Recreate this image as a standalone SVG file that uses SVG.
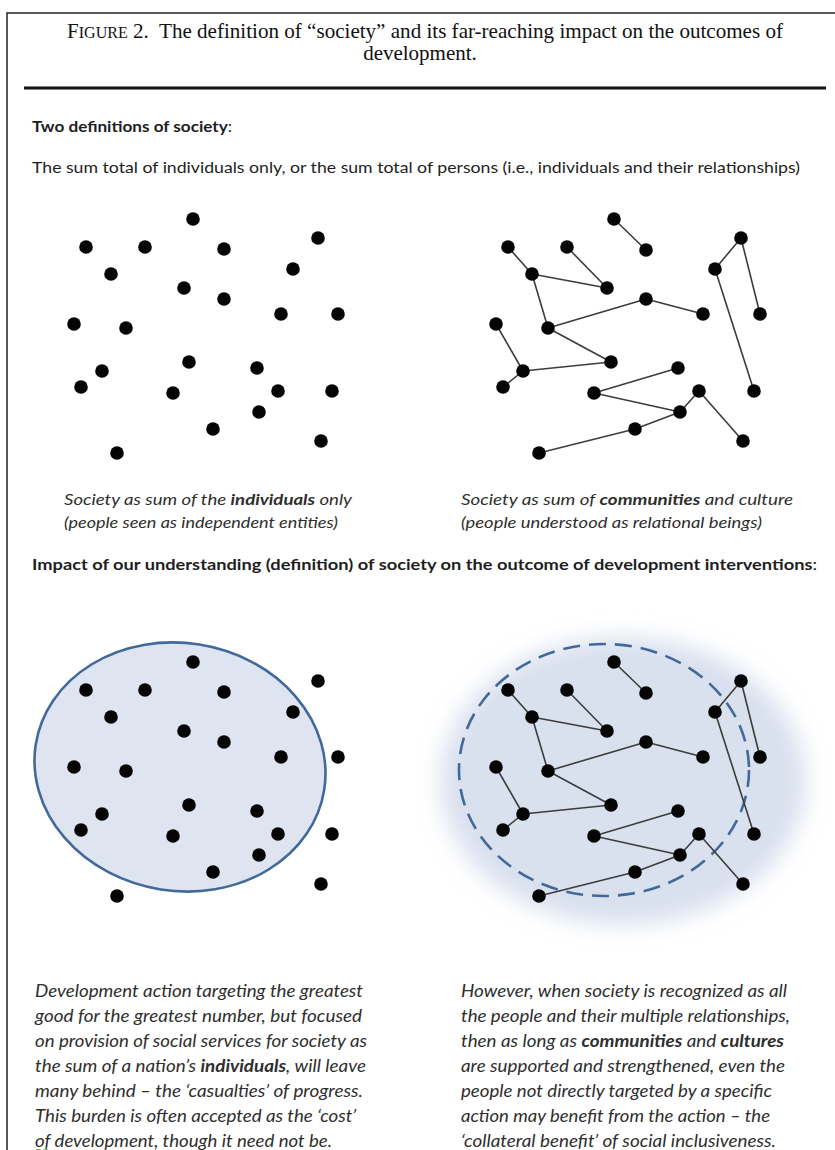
<svg xmlns="http://www.w3.org/2000/svg" width="835" height="1150" viewBox="0 0 835 1150">
<style>
.frame{fill:none;stroke:#222;stroke-width:1.5}
.rule{stroke:#111;stroke-width:3}
.ttl{font-family:"Liberation Serif","Times New Roman",serif;font-size:21px;fill:#111}
.sc{font-size:16px}
.h{font-family:Lato,"Open Sans",sans-serif;font-size:16px;fill:#1e1e1e}
.b{font-weight:bold}
.it{font-family:Lato,"Open Sans",sans-serif;font-style:italic;font-size:17px;fill:#2e2e2e}
.cap{font-size:16px}
.dot{fill:#050505}
.edge{stroke:#3c3c3c;stroke-width:1.6;stroke-linecap:round}
.ring{fill:#dee4f0;stroke:#41699a;stroke-width:2.6}
.dash{fill:none;stroke:#41699a;stroke-width:2.6;stroke-dasharray:17 9}
</style>
<defs>
<filter id="soft" x="-30%" y="-30%" width="160%" height="160%"><feGaussianBlur stdDeviation="11"/></filter>
</defs>
<rect width="835" height="1150" fill="#fff"/>
<g id="frame">
<path class="frame" d="M7,1150 V13 H835"/>
<line class="rule" x1="24" y1="88" x2="826" y2="88"/>
</g>
<g id="title">
<text class="ttl" x="425" y="38" text-anchor="middle" textLength="716" lengthAdjust="spacingAndGlyphs">F<tspan class="sc">IGURE</tspan> 2.&#160; The definition of “society” and its far-reaching impact on the outcomes of</text>
<text class="ttl" x="420" y="60" text-anchor="middle">development.</text>
</g>
<g id="headings">
<text class="h" x="32" y="132" textLength="200" lengthAdjust="spacingAndGlyphs"><tspan class="b">Two definitions of society</tspan>:</text>
<text class="h" x="32" y="173" textLength="768" lengthAdjust="spacingAndGlyphs" fill="#333">The sum total of individuals only, or the sum total of persons (i.e., individuals and their relationships)</text>
<text class="h" x="32" y="570" textLength="785" lengthAdjust="spacingAndGlyphs"><tspan class="b">Impact of our understanding (definition) of society on the outcome of development interventions</tspan>:</text>
</g>
<g id="backgrounds">
<ellipse cx="623" cy="781" rx="183" ry="144" fill="#d9e0ee" filter="url(#soft)"/>
<ellipse class="ring" cx="180" cy="767" rx="146" ry="124" transform="rotate(9 180 767)"/>
<ellipse class="dash" cx="604" cy="770" rx="145" ry="126"/>
</g>
<g id="connectors">
<g id="edges-top">
<line class="edge" x1="614" y1="219" x2="646" y2="250"/>
<line class="edge" x1="508" y1="247" x2="532" y2="274"/>
<line class="edge" x1="567" y1="247" x2="607" y2="288"/>
<line class="edge" x1="532" y1="274" x2="607" y2="288"/>
<line class="edge" x1="532" y1="274" x2="548" y2="328"/>
<line class="edge" x1="548" y1="328" x2="646" y2="299"/>
<line class="edge" x1="646" y1="299" x2="703" y2="314"/>
<line class="edge" x1="548" y1="328" x2="611" y2="362"/>
<line class="edge" x1="496" y1="324" x2="523" y2="371"/>
<line class="edge" x1="523" y1="371" x2="611" y2="362"/>
<line class="edge" x1="503" y1="387" x2="523" y2="371"/>
<line class="edge" x1="741" y1="238" x2="715" y2="269"/>
<line class="edge" x1="741" y1="238" x2="760" y2="314"/>
<line class="edge" x1="715" y1="269" x2="754" y2="391"/>
<line class="edge" x1="594" y1="393" x2="678" y2="368"/>
<line class="edge" x1="594" y1="393" x2="680" y2="412"/>
<line class="edge" x1="680" y1="412" x2="699" y2="391"/>
<line class="edge" x1="699" y1="391" x2="743" y2="441"/>
<line class="edge" x1="680" y1="412" x2="635" y2="429"/>
<line class="edge" x1="635" y1="429" x2="539" y2="453"/>
</g>
<g id="edges-bottom" transform="translate(0,443)">
<line class="edge" x1="614" y1="219" x2="646" y2="250"/>
<line class="edge" x1="508" y1="247" x2="532" y2="274"/>
<line class="edge" x1="567" y1="247" x2="607" y2="288"/>
<line class="edge" x1="532" y1="274" x2="607" y2="288"/>
<line class="edge" x1="532" y1="274" x2="548" y2="328"/>
<line class="edge" x1="548" y1="328" x2="646" y2="299"/>
<line class="edge" x1="646" y1="299" x2="703" y2="314"/>
<line class="edge" x1="548" y1="328" x2="611" y2="362"/>
<line class="edge" x1="496" y1="324" x2="523" y2="371"/>
<line class="edge" x1="523" y1="371" x2="611" y2="362"/>
<line class="edge" x1="503" y1="387" x2="523" y2="371"/>
<line class="edge" x1="741" y1="238" x2="715" y2="269"/>
<line class="edge" x1="741" y1="238" x2="760" y2="314"/>
<line class="edge" x1="715" y1="269" x2="754" y2="391"/>
<line class="edge" x1="594" y1="393" x2="678" y2="368"/>
<line class="edge" x1="594" y1="393" x2="680" y2="412"/>
<line class="edge" x1="680" y1="412" x2="699" y2="391"/>
<line class="edge" x1="699" y1="391" x2="743" y2="441"/>
<line class="edge" x1="680" y1="412" x2="635" y2="429"/>
<line class="edge" x1="635" y1="429" x2="539" y2="453"/>
</g>
</g>
<g id="individuals-top">
<circle class="dot" cx="193" cy="219" r="6.8"/><circle class="dot" cx="86" cy="247" r="6.8"/><circle class="dot" cx="145" cy="247" r="6.8"/><circle class="dot" cx="224" cy="249" r="6.8"/><circle class="dot" cx="318" cy="238" r="6.8"/><circle class="dot" cx="111" cy="274" r="6.8"/><circle class="dot" cx="293" cy="269" r="6.8"/><circle class="dot" cx="184" cy="288" r="6.8"/><circle class="dot" cx="224" cy="299" r="6.8"/><circle class="dot" cx="281" cy="314" r="6.8"/><circle class="dot" cx="338" cy="314" r="6.8"/><circle class="dot" cx="74" cy="324" r="6.8"/><circle class="dot" cx="126" cy="328" r="6.8"/><circle class="dot" cx="189" cy="362" r="6.8"/><circle class="dot" cx="257" cy="368" r="6.8"/><circle class="dot" cx="102" cy="371" r="6.8"/><circle class="dot" cx="81" cy="387" r="6.8"/><circle class="dot" cx="173" cy="393" r="6.8"/><circle class="dot" cx="278" cy="391" r="6.8"/><circle class="dot" cx="332" cy="391" r="6.8"/><circle class="dot" cx="259" cy="412" r="6.8"/><circle class="dot" cx="213" cy="429" r="6.8"/><circle class="dot" cx="321" cy="441" r="6.8"/><circle class="dot" cx="117" cy="453" r="6.8"/>
</g>
<g id="individuals-bottom" transform="translate(0,443)">
<circle class="dot" cx="193" cy="219" r="6.8"/><circle class="dot" cx="86" cy="247" r="6.8"/><circle class="dot" cx="145" cy="247" r="6.8"/><circle class="dot" cx="224" cy="249" r="6.8"/><circle class="dot" cx="318" cy="238" r="6.8"/><circle class="dot" cx="111" cy="274" r="6.8"/><circle class="dot" cx="293" cy="269" r="6.8"/><circle class="dot" cx="184" cy="288" r="6.8"/><circle class="dot" cx="224" cy="299" r="6.8"/><circle class="dot" cx="281" cy="314" r="6.8"/><circle class="dot" cx="338" cy="314" r="6.8"/><circle class="dot" cx="74" cy="324" r="6.8"/><circle class="dot" cx="126" cy="328" r="6.8"/><circle class="dot" cx="189" cy="362" r="6.8"/><circle class="dot" cx="257" cy="368" r="6.8"/><circle class="dot" cx="102" cy="371" r="6.8"/><circle class="dot" cx="81" cy="387" r="6.8"/><circle class="dot" cx="173" cy="393" r="6.8"/><circle class="dot" cx="278" cy="391" r="6.8"/><circle class="dot" cx="332" cy="391" r="6.8"/><circle class="dot" cx="259" cy="412" r="6.8"/><circle class="dot" cx="213" cy="429" r="6.8"/><circle class="dot" cx="321" cy="441" r="6.8"/><circle class="dot" cx="117" cy="453" r="6.8"/>
</g>
<g id="persons-top">
<circle class="dot" cx="614" cy="219" r="6.8"/><circle class="dot" cx="646" cy="250" r="6.8"/><circle class="dot" cx="508" cy="247" r="6.8"/><circle class="dot" cx="567" cy="247" r="6.8"/><circle class="dot" cx="532" cy="274" r="6.8"/><circle class="dot" cx="607" cy="288" r="6.8"/><circle class="dot" cx="741" cy="238" r="6.8"/><circle class="dot" cx="715" cy="269" r="6.8"/><circle class="dot" cx="646" cy="299" r="6.8"/><circle class="dot" cx="703" cy="314" r="6.8"/><circle class="dot" cx="760" cy="314" r="6.8"/><circle class="dot" cx="496" cy="324" r="6.8"/><circle class="dot" cx="548" cy="328" r="6.8"/><circle class="dot" cx="611" cy="362" r="6.8"/><circle class="dot" cx="678" cy="368" r="6.8"/><circle class="dot" cx="523" cy="371" r="6.8"/><circle class="dot" cx="503" cy="387" r="6.8"/><circle class="dot" cx="594" cy="393" r="6.8"/><circle class="dot" cx="699" cy="391" r="6.8"/><circle class="dot" cx="754" cy="391" r="6.8"/><circle class="dot" cx="680" cy="412" r="6.8"/><circle class="dot" cx="635" cy="429" r="6.8"/><circle class="dot" cx="743" cy="441" r="6.8"/><circle class="dot" cx="539" cy="453" r="6.8"/>
</g>
<g id="persons-bottom" transform="translate(0,443)">
<circle class="dot" cx="614" cy="219" r="6.8"/><circle class="dot" cx="646" cy="250" r="6.8"/><circle class="dot" cx="508" cy="247" r="6.8"/><circle class="dot" cx="567" cy="247" r="6.8"/><circle class="dot" cx="532" cy="274" r="6.8"/><circle class="dot" cx="607" cy="288" r="6.8"/><circle class="dot" cx="741" cy="238" r="6.8"/><circle class="dot" cx="715" cy="269" r="6.8"/><circle class="dot" cx="646" cy="299" r="6.8"/><circle class="dot" cx="703" cy="314" r="6.8"/><circle class="dot" cx="760" cy="314" r="6.8"/><circle class="dot" cx="496" cy="324" r="6.8"/><circle class="dot" cx="548" cy="328" r="6.8"/><circle class="dot" cx="611" cy="362" r="6.8"/><circle class="dot" cx="678" cy="368" r="6.8"/><circle class="dot" cx="523" cy="371" r="6.8"/><circle class="dot" cx="503" cy="387" r="6.8"/><circle class="dot" cx="594" cy="393" r="6.8"/><circle class="dot" cx="699" cy="391" r="6.8"/><circle class="dot" cx="754" cy="391" r="6.8"/><circle class="dot" cx="680" cy="412" r="6.8"/><circle class="dot" cx="635" cy="429" r="6.8"/><circle class="dot" cx="743" cy="441" r="6.8"/><circle class="dot" cx="539" cy="453" r="6.8"/>
</g>
<g id="captions">
<text class="it cap" x="64" y="505" textLength="288" lengthAdjust="spacingAndGlyphs">Society as sum of the <tspan class="b">individuals</tspan> only</text>
<text class="it cap" x="64" y="528" textLength="274" lengthAdjust="spacingAndGlyphs">(people seen as independent entities)</text>
<text class="it cap" x="461" y="505" textLength="332" lengthAdjust="spacingAndGlyphs">Society as sum of <tspan class="b">communities</tspan> and culture</text>
<text class="it cap" x="461" y="528" textLength="301" lengthAdjust="spacingAndGlyphs">(people understood as relational beings)</text>
</g>
<g id="text-left">
<text class="it" x="35" y="997" textLength="328" lengthAdjust="spacingAndGlyphs">Development action targeting the greatest</text>
<text class="it" x="35" y="1022" textLength="327" lengthAdjust="spacingAndGlyphs">good for the greatest number, but focused</text>
<text class="it" x="35" y="1047" textLength="332" lengthAdjust="spacingAndGlyphs">on provision of social services for society as</text>
<text class="it" x="35" y="1072" textLength="331" lengthAdjust="spacingAndGlyphs">the sum of a nation’s <tspan class="b">individuals</tspan>, will leave</text>
<text class="it" x="35" y="1097" textLength="328" lengthAdjust="spacingAndGlyphs">many behind – the ‘casualties’ of progress.</text>
<text class="it" x="35" y="1122" textLength="321" lengthAdjust="spacingAndGlyphs">This burden is often accepted as the ‘cost’</text>
<text class="it" x="35" y="1147" textLength="297" lengthAdjust="spacingAndGlyphs">of development, though it need not be.</text>
<path d="M36,1150 q2,-1.5 4,0 t4,0 t4,0" fill="none" stroke="#6aa84f" stroke-width="1"/>
</g>
<g id="text-right">
<text class="it" x="461" y="997" textLength="326" lengthAdjust="spacingAndGlyphs">However, when society is recognized as all</text>
<text class="it" x="461" y="1022" textLength="329" lengthAdjust="spacingAndGlyphs">the people and their multiple relationships,</text>
<text class="it" x="461" y="1047" textLength="323" lengthAdjust="spacingAndGlyphs">then as long as <tspan class="b">communities</tspan> and <tspan class="b">cultures</tspan></text>
<text class="it" x="461" y="1072" textLength="324" lengthAdjust="spacingAndGlyphs">are supported and strengthened, even the</text>
<text class="it" x="461" y="1097" textLength="311" lengthAdjust="spacingAndGlyphs">people not directly targeted by a specific</text>
<text class="it" x="461" y="1122" textLength="309" lengthAdjust="spacingAndGlyphs">action may benefit from the action – the</text>
<text class="it" x="461" y="1147" textLength="315" lengthAdjust="spacingAndGlyphs">‘collateral benefit’ of social inclusiveness.</text>
</g>
</svg>
